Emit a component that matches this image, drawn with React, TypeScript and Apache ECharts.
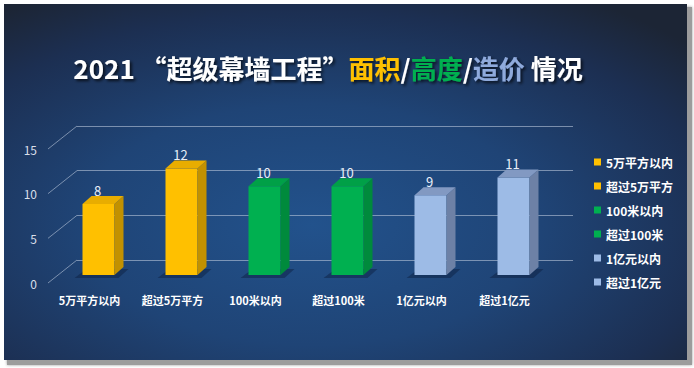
import React, { useEffect, useRef } from "react";
import * as echarts from "echarts";

const categories = ["5万平方以内", "超过5万平方", "100米以内", "超过100米", "1亿元以内", "超过1亿元"];
const values = [8, 12, 10, 10, 9, 11];
const frontColors = ["#ffc000", "#ffc000", "#00b050", "#00b050", "#9dbbe6", "#9dbbe6"];
const topColors = ["#e8ad00", "#e8ad00", "#00a047", "#00a047", "#8299c2", "#8299c2"];
const sideColors = ["#c29100", "#c29100", "#008a3c", "#008a3c", "#6d81a6", "#6d81a6"];
const yTicks = [0, 5, 10, 15];

const FONT = '"Noto Sans CJK SC", "Noto Sans", sans-serif';

export default function App() {
  const ref = useRef<HTMLDivElement>(null);
  useEffect(() => {
    if (!ref.current) return;
    const chart = echarts.init(ref.current, null, { renderer: "svg" });

    const DEPTH_X = 9;
    const DEPTH_Y = 8;
    const HALF = 16;

    const barSeries = categories.map((name, i) => ({
      type: "custom",
      name,
      xAxisIndex: 2,
      yAxisIndex: 2,
      z: 5,
      itemStyle: { color: frontColors[i] },
      data: [[i, values[i]]],
      renderItem: (params: any, api: any) => {
        const idx = api.value(0);
        const val = api.value(1);
        const top = api.coord([idx, val]);
        const base = api.coord([idx, 0]);
        const x = top[0];
        const y = top[1];
        const y0 = base[1];
        return {
          type: "group",
          children: [
            {
              type: "polygon",
              shape: {
                points: [
                  [x - 24, y0 + 3],
                  [x + 20, y0 + 3],
                  [x + 30, y0 - 6],
                  [x - 12, y0 - 6],
                ],
              },
              style: { fill: "rgba(12,28,60,0.45)" },
            },
            {
              type: "rect",
              shape: { x: x - HALF, y, width: HALF * 2, height: y0 - y },
              style: { fill: frontColors[i] },
            },
            {
              type: "polygon",
              shape: {
                points: [
                  [x + HALF, y],
                  [x + HALF + DEPTH_X, y - DEPTH_Y],
                  [x + HALF + DEPTH_X, y0 - DEPTH_Y],
                  [x + HALF, y0],
                ],
              },
              style: { fill: sideColors[i] },
            },
            {
              type: "polygon",
              shape: {
                points: [
                  [x - HALF, y],
                  [x - HALF + DEPTH_X, y - DEPTH_Y],
                  [x + HALF + DEPTH_X, y - DEPTH_Y],
                  [x + HALF, y],
                ],
              },
              style: { fill: topColors[i] },
            },
            {
              type: "text",
              x: x - 1,
              y: y - 14,
              style: {
                text: String(val),
                fill: "#e8eef8",
                font: `13px ${FONT}`,
                align: "center",
                verticalAlign: "middle",
              },
            },
          ],
        };
      },
    }));

    const option: any = {
      animation: false,
      backgroundColor: "#ffffff",
      graphic: [
        {
          type: "rect",
          z: -10,
          shape: { x: 7, y: 7, width: 685, height: 358 },
          style: { fill: "#9c9c9c", shadowBlur: 3, shadowColor: "rgba(0,0,0,0.4)" },
        },
        {
          type: "rect",
          z: -9,
          shape: { x: 4, y: 4, width: 683, height: 356 },
          style: {
            fill: {
              type: "radial",
              x: 0.45,
              y: 0.62,
              r: 0.75,
              colorStops: [
                { offset: 0, color: "#22528c" },
                { offset: 0.45, color: "#1f4476" },
                { offset: 0.8, color: "#1c2f52" },
                { offset: 1, color: "#1c2535" },
              ],
            },
          },
        },
        {
          type: "text",
          z: 10,
          x: 328,
          y: 67,
          style: {
            text: "{w|2021 “超级幕墙工程”}{y|面积}{w|/}{g|高度}{w|/}{b|造价}{w| 情况}",
            align: "center",
            verticalAlign: "middle",
            textShadowColor: "rgba(0,0,0,0.7)",
            textShadowBlur: 3,
            textShadowOffsetX: 2,
            textShadowOffsetY: 2,
            rich: {
              w: { fill: "#ffffff", font: `bold 26px ${FONT}` },
              y: { fill: "#ffc000", font: `bold 26px ${FONT}` },
              g: { fill: "#00b050", font: `bold 26px ${FONT}` },
              b: { fill: "#8faadc", font: `bold 26px ${FONT}` },
            },
          },
        },
      ],
      legend: {
        orient: "vertical",
        left: 589,
        top: 151,
        itemWidth: 7,
        itemHeight: 7,
        itemGap: 12,
        icon: "rect",
        textStyle: { color: "#ffffff", fontSize: 12, fontWeight: "bold", fontFamily: FONT },
        data: categories,
      },
      grid: [
        { left: 77, top: 126, width: 496, height: 134 },
        { left: 48, top: 149, width: 498, height: 134 },
        { left: 57, top: 142, width: 498, height: 133 },
      ],
      xAxis: [
        { gridIndex: 0, type: "category", data: categories, show: false },
        {
          gridIndex: 1,
          type: "category",
          data: categories,
          axisLine: { show: false },
          axisTick: { show: false },
          axisLabel: {
            color: "#ffffff",
            fontSize: 11,
            fontWeight: "bold",
            fontFamily: FONT,
            margin: 11,
            interval: 0,
          },
        },
        { gridIndex: 2, type: "category", data: categories, show: false },
      ],
      yAxis: [
        {
          gridIndex: 0,
          type: "value",
          min: 0,
          max: 15,
          interval: 5,
          axisLabel: { show: false },
          axisLine: { show: false },
          axisTick: { show: false },
          splitLine: { lineStyle: { color: "rgba(185,198,218,0.6)", width: 1 } },
        },
        {
          gridIndex: 1,
          type: "value",
          min: 0,
          max: 15,
          interval: 5,
          axisLine: { show: false },
          axisTick: { show: false },
          splitLine: { show: false },
          axisLabel: { color: "#d8dfea", fontSize: 12, fontFamily: FONT, margin: 11 },
        },
        { gridIndex: 2, type: "value", min: 0, max: 15, show: false, splitLine: { show: false } },
      ],
      series: [
        {
          type: "custom",
          name: "diag",
          xAxisIndex: 0,
          yAxisIndex: 0,
          silent: true,
          z: 1,
          data: yTicks.map((v) => [0, v]),
          renderItem: (params: any, api: any) => {
            const p = api.coord([0, api.value(1)]);
            const x = params.coordSys.x;
            return {
              type: "line",
              shape: { x1: x, y1: p[1], x2: x - 29, y2: p[1] + 23 },
              style: { stroke: "rgba(185,198,218,0.6)", lineWidth: 1 },
            };
          },
        },
        ...barSeries,
      ],
    };
    chart.setOption(option);
    return () => chart.dispose();
  }, []);
  return (
    <div
      ref={ref}
      style={{ position: "absolute", left: 0, top: 0, width: 694, height: 368 }}
    />
  );
}
